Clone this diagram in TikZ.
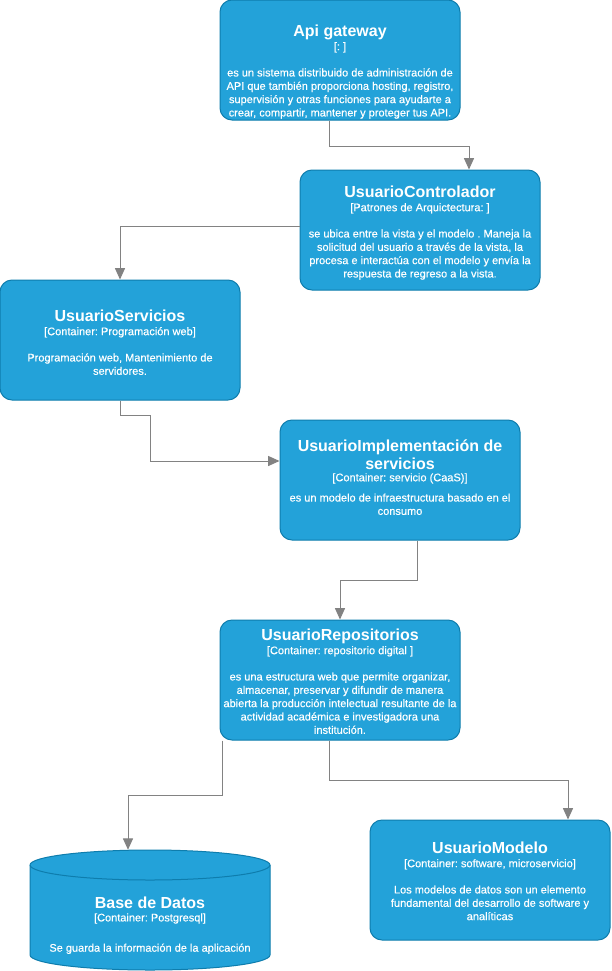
\documentclass[tikz,border=0pt]{standalone}
\usepackage{fontspec}
\setmainfont{Liberation Sans}
\newfontfamily\bodyfont{Liberation Sans}[RawFeature={embolden=0.4}]
\usetikzlibrary{arrows.meta,calc}
\definecolor{boxfill}{HTML}{23A2D9}
\definecolor{boxline}{HTML}{0E7DAD}
\definecolor{relline}{HTML}{828282}
\newcommand\boxtitle[1]{{\normalfont\fontsize{12}{13.5}\selectfont\bfseries #1}}
\tikzset{
  container/.style={draw=boxline, fill=boxfill, line width=0.75pt,
    rounded corners=9pt, minimum width=180pt, minimum height=90pt, inner sep=0pt},
  boxtext/.style={text=white, align=center,
    font=\bodyfont\fontsize{8.25}{10}\selectfont\frenchspacing,
    inner sep=0pt, anchor=north},
  rel/.style={draw=relline, line width=0.75pt, -{Triangle[length=8.5pt,width=7.5pt]}},
  dbbody/.style={draw=boxline, fill=boxfill, line width=0.75pt},
}
\begin{document}
\begin{tikzpicture}[x=0.75pt,y=-0.75pt]
\useasboundingbox (0,0) rectangle (611,971);
\fill[white] (0,0) rectangle (611,971);

% containers
\node[container] (api)    at (340,60)  {};
\node[container] (ctrl)   at (420,230) {};
\node[container] (serv)   at (120,340) {};
\node[container] (impl)   at (400,480) {};
\node[container] (repo)   at (340,680) {};
\node[container] (modelo) at (490,880) {};
\node[minimum width=180pt, minimum height=90pt, inner sep=0pt] (db) at (150,910) {};

% database cylinder
\path[dbbody] (30,865) -- (30,955)
  arc[start angle=180, end angle=360, x radius=90pt, y radius=11.25pt]
  -- (270,865)
  arc[start angle=0, end angle=180, x radius=90pt, y radius=11.25pt] -- cycle;
\draw[draw=boxline, line width=0.75pt] (30,865)
  arc[start angle=180, end angle=360, x radius=90pt, y radius=11.25pt];

% texts
\node[boxtext] (api-t) at (340,24.2) {\boxtitle{Api gateway}\\[0.6pt]
[: ]\\[9.7pt]
es un sistema distribuido de administración de\\
API que también proporciona hosting, registro,\\
supervisión y otras funciones para ayudarte a\\
crear, compartir, mantener y proteger tus API.};

\node[boxtext] (ctrl-t) at (420,185.2) {\boxtitle{UsuarioControlador}\\[0.6pt]
[Patrones de Arquictectura: ]\\[9.7pt]
se ubica entre la vista y el modelo . Maneja la\\
solicitud del usuario a través de la vista, la\\
procesa e interactúa con el modelo y envía la\\
respuesta de regreso a la vista.};

\node[boxtext] (serv-t) at (120,309.2) {\boxtitle{UsuarioServicios}\\[0.6pt]
[Container: Programación web]\\[9.7pt]
Programación web, Mantenimiento de\\
servidores.};

\node[boxtext] (impl-t) at (400,439) {\boxtitle{UsuarioImplementación de}\\[1.5pt]
\boxtitle{servicios}\\[-1pt]
[Container: servicio (CaaS)]\\[5.2pt]
es un modelo de infraestructura basado en el\\
consumo};

\node[boxtext] (repo-t) at (340,628.2) {\boxtitle{UsuarioRepositorios}\\[0.6pt]
[Container: repositorio digital ]\\[9.7pt]
es una estructura web que permite organizar,\\
almacenar, preservar y difundir de manera\\
abierta la producción intelectual resultante de la\\
actividad académica e investigadora una\\
institución.};

\node[boxtext] (modelo-t) at (490,841.2) {\boxtitle{UsuarioModelo}\\[0.6pt]
[Container: software, microservicio]\\[9.7pt]
Los modelos de datos son un elemento\\
fundamental del desarrollo de software y\\
analíticas};

\node[boxtext] (db-t) at (150,896.2) {\boxtitle{Base de Datos}\\[0pt]
[Container: Postgresql]\\[12.7pt]
Se guarda la información de la aplicación};

% bend points of the relationships
\coordinate (a1) at (329,146);
\coordinate (a2) at (469,146);
\coordinate (b1) at (120,226);
\coordinate (c1) at (120,415);
\coordinate (c2) at (150,415);
\coordinate (c3) at (150,461);
\coordinate (d1) at (417,580);
\coordinate (d2) at (340,580);
\coordinate (e1) at (222,795);
\coordinate (e2) at (128,795);
\coordinate (f1) at (329,780);
\coordinate (f2) at (568,780);

% relationships
\draw[rel] (api.south -| a1) -- (a1) -- (a2) -- (ctrl.north -| a2);
\draw[rel] (ctrl.west |- b1) -- (b1) -- (serv.north -| b1);
\draw[rel] (serv.south -| c1) -- (c1) -- (c2) -- (c3) -- (impl.west |- c3);
\draw[rel] (impl.south -| d1) -- (d1) -- (d2) -- (repo.north -| d2);
\draw[rel] (repo.south -| e1) -- (e1) -- (e2) -- (db.north -| e2);
\draw[rel] (repo.south -| f1) -- (f1) -- (f2) -- (modelo.north -| f2);
\end{tikzpicture}
\end{document}
